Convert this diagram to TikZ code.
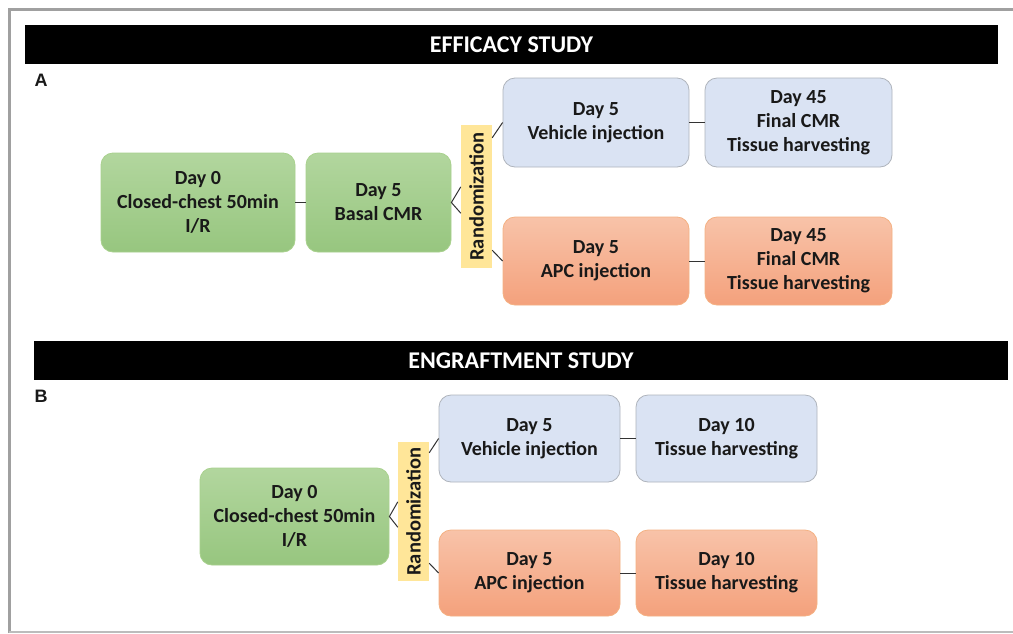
\documentclass[tikz,border=0pt]{standalone}
\usepackage{fontspec}
\setmainfont{Carlito}
\newfontfamily\arialfont{Liberation Sans}
\usetikzlibrary{calc}
\definecolor{gtop}{HTML}{B2D69E}
\definecolor{gbot}{HTML}{97C67F}
\definecolor{gline}{HTML}{A9D18E}
\definecolor{bfill}{HTML}{DAE3F3}
\definecolor{bline}{HTML}{AFB4BC}
\definecolor{otop}{HTML}{F8C3A9}
\definecolor{obot}{HTML}{F4A17C}
\definecolor{oline}{HTML}{F4B183}
\definecolor{yfill}{HTML}{FFE699}
\definecolor{frame}{HTML}{A0A0A0}
\tikzset{
  boxtxt/.style={align=center, text=black!90, font=\bfseries\fontsize{20}{24}\selectfont, rounded corners=12pt, inner sep=0pt},
  greenbox/.style={boxtxt, top color=gtop, bottom color=gbot, draw=gline, line width=0.8pt},
  bluebox/.style={boxtxt, fill=bfill, draw=bline, line width=0.8pt},
  orangebox/.style={boxtxt, top color=otop, bottom color=obot, draw=oline, line width=0.8pt},
  randbox/.style={fill=yfill, draw=none, inner sep=0pt, font=\bfseries\fontsize{20.5}{22}\selectfont, text=black!90},
  header/.style={fill=black, text=white, inner sep=0pt, font=\bfseries\fontsize{24}{26}\selectfont},
  panel/.style={font=\arialfont\bfseries\fontsize{18}{20}\selectfont, text=black!90, inner sep=0pt},
  link/.style={draw=black!80, line width=1pt}
}
\begin{document}
\begin{tikzpicture}[x=1pt,y=-1pt]
\useasboundingbox (0,0) rectangle (1013,633);
\fill[white] (0,0) rectangle (1013,633);
% outer frame
\draw[frame, line width=3pt] (9,633) -- (9,9) -- (1013,9);
\draw[frame!70, line width=1.2pt] (9,632) -- (1013,632);

% ---------- Section A ----------
\node[header, minimum width=973pt, minimum height=39pt] (hA) at (511.5,44.5) {EFFICACY STUDY};
\node[panel] (pA) at (41,80) {A};

\node[greenbox, minimum width=194pt, minimum height=99pt] (g1) at (198,202.5) {Day 0\\Closed-chest 50min\\I/R};
\node[greenbox, minimum width=145pt, minimum height=99pt] (g2) at (378.5,202.5) {Day 5\\Basal CMR};
\node[randbox, minimum width=31pt, minimum height=143pt] (rA) at (476.5,196.5) {\rotatebox{90}{Randomization}};
\node[bluebox, minimum width=186pt, minimum height=89pt] (b1) at (596,122.5) {Day 5\\Vehicle injection};
\node[bluebox, minimum width=187pt, minimum height=89pt] (b2) at (798.5,122.5) {Day 45\\Final CMR\\Tissue harvesting};
\node[orangebox, minimum width=186pt, minimum height=88pt] (o1) at (596,261) {Day 5\\APC injection};
\node[orangebox, minimum width=187pt, minimum height=88pt] (o2) at (798.5,261) {Day 45\\Final CMR\\Tissue harvesting};

\draw[link] (g1.east) -- (g2.east -| g2.west);
\draw[link] ($(rA.north west)+(0,62)$) -- (g2.east) -- ($(rA.south west)+(0,-55)$);
\draw[link] ($(rA.north east)+(0,13)$) -- (b1.west);
\draw[link] ($(rA.south east)+(0,-18)$) -- (o1.west);
\draw[link] (b1.east) -- (b2.west);
\draw[link] (o1.east) -- (o2.west);

% ---------- Section B ----------
\node[header, minimum width=974pt, minimum height=39pt] (hB) at (521,360.5) {ENGRAFTMENT STUDY};
\node[panel] (pB) at (41,396) {B};

\node[greenbox, minimum width=189pt, minimum height=97pt] (g3) at (294.5,516.5) {Day 0\\Closed-chest 50min\\I/R};
\node[randbox, minimum width=31pt, minimum height=139pt] (rB) at (413.5,511.5) {\rotatebox{90}{Randomization}};
\node[bluebox, minimum width=181pt, minimum height=87pt] (b3) at (529.5,438.5) {Day 5\\Vehicle injection};
\node[bluebox, minimum width=181pt, minimum height=87pt] (b4) at (726.5,438.5) {Day 10\\Tissue harvesting};
\node[orangebox, minimum width=181pt, minimum height=86pt] (o3) at (529.5,573) {Day 5\\APC injection};
\node[orangebox, minimum width=181pt, minimum height=86pt] (o4) at (726.5,573) {Day 10\\Tissue harvesting};

\draw[link] ($(rB.north west)+(0,60)$) -- (g3.east) -- ($(rB.south west)+(0,-54)$);
\draw[link] ($(rB.north east)+(0,11)$) -- (b3.west);
\draw[link] ($(rB.south east)+(0,-18)$) -- (o3.west);
\draw[link] (b3.east) -- (b4.west);
\draw[link] (o3.east) -- (o4.west);
\end{tikzpicture}
\end{document}
